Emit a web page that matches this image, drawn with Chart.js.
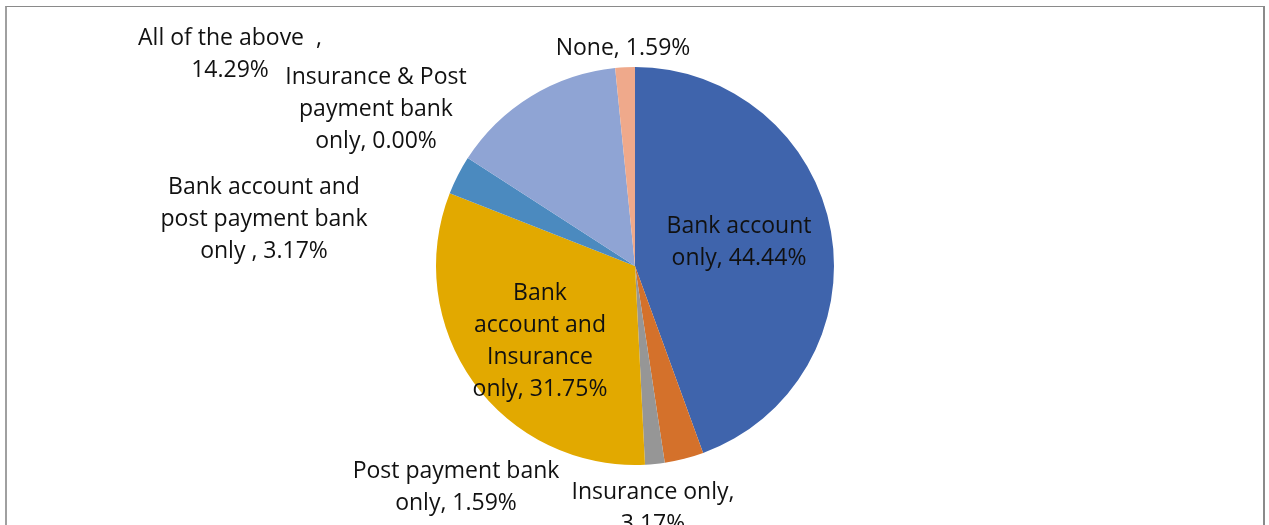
<!DOCTYPE html>
<html>
<head>
<meta charset="utf-8">
<script src="https://cdn.jsdelivr.net/npm/chart.js@4.4.1/dist/chart.umd.min.js"></script>
<style>
  html, body { margin: 0; padding: 0; background: #fff; overflow: hidden; }
  #wrap { position: relative; width: 1269px; height: 525px; }
  #frame {
    position: absolute; left: 5px; top: 6px; width: 1256px; height: 540px;
    border-top: 1px solid #8a8a8a; border-left: 2px solid #a0a0a0; border-right: 2px solid #8a8a8a;
  }
  canvas { position: absolute; left: 0; top: 0; }
</style>
</head>
<body>
<div id="wrap">
  <div id="frame"></div>
  <canvas id="c" width="1269" height="525"></canvas>
</div>
<script>
// Access to financial services: share of respondents (%)
const categories = [
  "Bank account only",
  "Insurance only",
  "Post payment bank only",
  "Bank account and Insurance only",
  "Bank account and post payment bank only ",
  "Insurance & Post payment bank only",
  "All of the above  ",
  "None"
];
const shares = [44.44, 3.17, 1.59, 31.75, 3.17, 0.00, 14.29, 1.59];
const colors = ["#3F64AC", "#D4712B", "#969696", "#E2A900", "#4B8ABF", "#A5A5A5", "#8FA4D4", "#EFA98B"];

// Label text lines (category wrapped, then value) and their anchor relative to pie centre
const labelLines = [
  ["Bank account", "only, 44.44%"],
  ["Insurance only,", "3.17%"],
  ["Post payment bank", "only, 1.59%"],
  ["Bank", "account and", "Insurance", "only, 31.75%"],
  ["Bank account and", "post payment bank", "only , 3.17%"],
  ["Insurance & Post", "payment bank", "only, 0.00%"],
  ["All of the above  ,", "14.29%"],
  ["None, 1.59%"]
];
// [dx, dy of first line centre] from pie centre, in px
const labelOffsets = [
  [104, -40], [18, 226], [-179, 205], [-95, 27], [-371, -79], [-259, -189], [-405, -228], [-12, -218]
];

const labelPlugin = {
  id: "sliceLabels",
  afterDatasetsDraw(chart) {
    const meta = chart.getDatasetMeta(0);
    const arc = meta.data[0];
    const cx = arc.x, cy = arc.y;
    const ctx = chart.ctx;
    ctx.save();
    ctx.font = "23px 'Open Sans'";
    ctx.fillStyle = "#111";
    ctx.textAlign = "center";
    ctx.textBaseline = "middle";
    const lh = 32.3;
    labelLines.forEach((lines, i) => {
      const [dx, dy] = labelOffsets[i];
      lines.forEach((t, k) => ctx.fillText(t, cx + dx, cy + dy + k * lh));
    });
    ctx.restore();
  }
};

new Chart(document.getElementById("c"), {
  type: "pie",
  data: {
    labels: categories,
    datasets: [{
      data: shares,
      backgroundColor: colors,
      borderWidth: 0
    }]
  },
  options: {
    responsive: false,
    animation: false,
    layout: { padding: { left: 436, right: 435, top: 67, bottom: 60 } },
    plugins: { legend: { display: false }, tooltip: { enabled: false } }
  },
  plugins: [labelPlugin]
});
</script>
</body>
</html>
